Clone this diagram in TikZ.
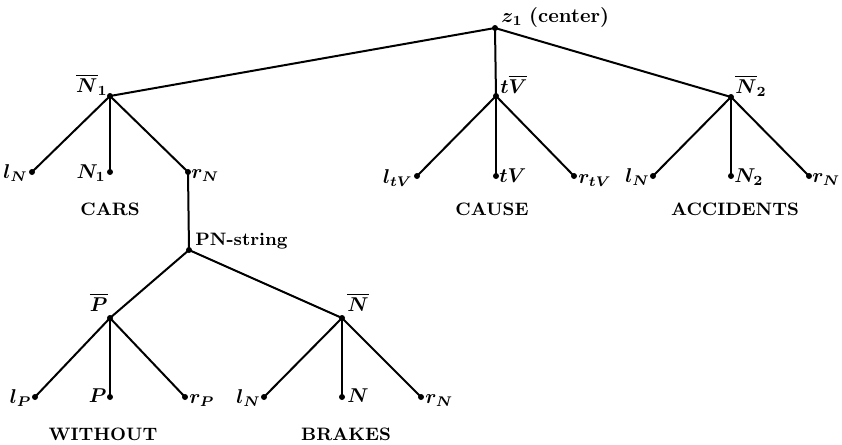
\documentclass[tikz,border=0pt]{standalone}
\begin{document}
\begin{tikzpicture}[x=0.5pt,y=-0.5pt,
  dot/.style={circle,fill,inner sep=0pt,minimum size=3pt},
  lbl/.style={inner sep=0pt,font=\boldmath},
  word/.style={inner sep=0pt,font=\small\bfseries},
  edge/.style={line width=1pt}]
\useasboundingbox (0,0) rectangle (842,445);
% dots
\node[dot] (z1) at (495,28) {};
\node[dot] (n1) at (110,96) {};
\node[dot] (tvb) at (496,96) {};
\node[dot] (n2) at (731,97) {};
\node[dot] (ln1) at (32,172) {};
\node[dot] (nn1) at (110,172) {};
\node[dot] (rn1) at (188,172) {};
\node[dot] (ltv) at (417,176) {};
\node[dot] (tv) at (496,176) {};
\node[dot] (rtv) at (574,176) {};
\node[dot] (ln2) at (653,176) {};
\node[dot] (nn2) at (731,176) {};
\node[dot] (rn2) at (809,176) {};
\node[dot] (pn) at (189,250) {};
\node[dot] (pb) at (110,318) {};
\node[dot] (nb) at (342,318) {};
\node[dot] (lp) at (35,397) {};
\node[dot] (p) at (110,397) {};
\node[dot] (rp) at (185,397) {};
\node[dot] (ln3) at (264,397) {};
\node[dot] (nn3) at (342,397) {};
\node[dot] (rn3) at (421,397) {};
% edges
\foreach \a/\b in {z1/n1,z1/tvb,z1/n2,n1/ln1,n1/nn1,n1/rn1,tvb/ltv,tvb/tv,tvb/rtv,
  n2/ln2,n2/nn2,n2/rn2,rn1/pn,pn/pb,pn/nb,pb/lp,pb/p,pb/rp,nb/ln3,nb/nn3,nb/rn3}
  \draw[edge] (\a.center) -- (\b.center);
% labels
\node[lbl,anchor=base west] (Lz1) at (501,22) {$z_1$ \textbf{(center)}};
\node[lbl,anchor=base east] (Ln1) at (108,92) {$\overline{N}_1$};
\node[lbl,anchor=base west] (Ltvb) at (500,93) {$t\overline{V}$};
\node[lbl,anchor=base west] (Ln2) at (735,93) {$\overline{N}_2$};
\node[lbl,anchor=base east] (Lln1) at (28,178) {$l_N$};
\node[lbl,anchor=base east] (Lnn1) at (106,178) {$N_1$};
\node[lbl,anchor=base west] (Lrn1) at (191,178) {$r_N$};
\node[lbl,anchor=base east] (Lltv) at (413,183) {$l_{tV}$};
\node[lbl,anchor=base west] (Ltv) at (499,182) {$tV$};
\node[lbl,anchor=base west] (Lrtv) at (578,183) {$r_{tV}$};
\node[lbl,anchor=base east] (Lln2) at (650,182) {$l_N$};
\node[lbl,anchor=base west] (Lnn2) at (734,182) {$N_2$};
\node[lbl,anchor=base west] (Lrn2) at (812,182) {$r_N$};
\node[word,anchor=base west] (Lpn) at (195,245) {PN-string};
\node[lbl,anchor=base east] (Lpb) at (108,311) {$\overline{P}$};
\node[lbl,anchor=base west] (Lnb) at (347,311) {$\overline{N}$};
\node[lbl,anchor=base east] (Llp) at (32,403) {$l_P$};
\node[lbl,anchor=base east] (Lp) at (107,402) {$P$};
\node[lbl,anchor=base west] (Lrp) at (189,403) {$r_P$};
\node[lbl,anchor=base east] (Lln3) at (261,403) {$l_N$};
\node[lbl,anchor=base west] (Lnn3) at (347,402) {$N$};
\node[lbl,anchor=base west] (Lrn3) at (425,403) {$r_N$};
% words
\node[word,anchor=base] (wcars) at (110,215) {CARS};
\node[word,anchor=base] (wcause) at (492,215) {CAUSE};
\node[word,anchor=base] (wacc) at (735,215) {ACCIDENTS};
\node[word,anchor=base] (wwith) at (103,440) {WITHOUT};
\node[word,anchor=base] (wbrakes) at (346,440) {BRAKES};
\end{tikzpicture}
\end{document}
